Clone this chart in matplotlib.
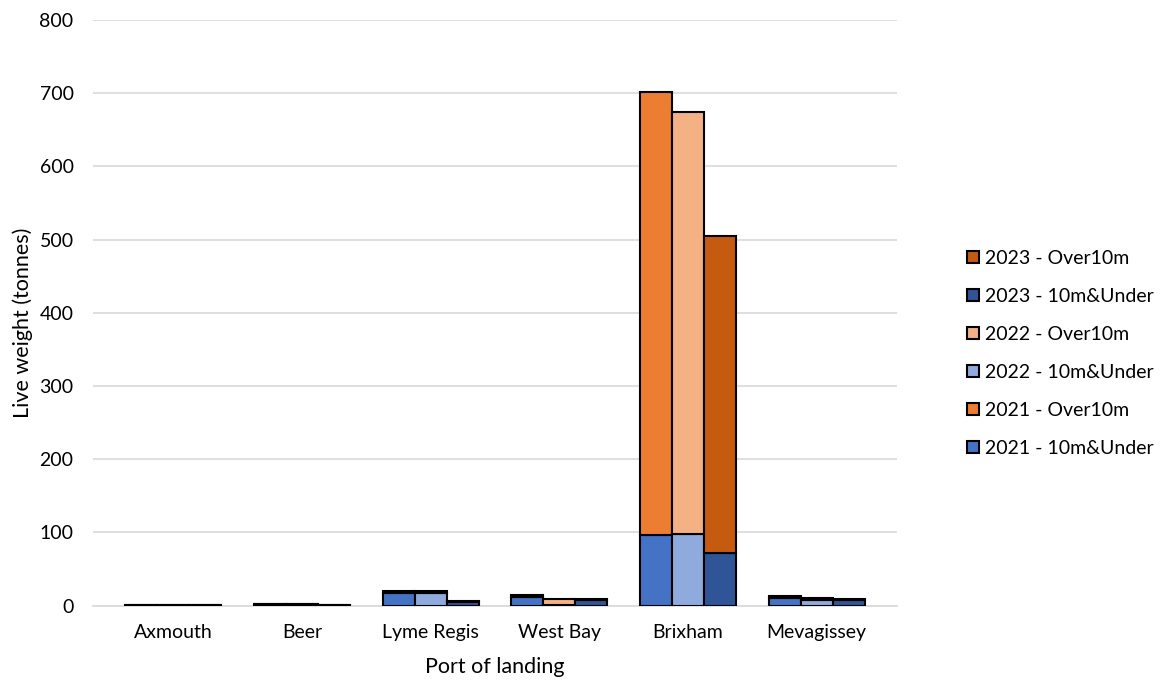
import matplotlib
matplotlib.use("Agg")
import matplotlib.pyplot as plt
import numpy as np

plt.rcParams['font.family'] = ['Lato', 'DejaVu Sans']

ports = ["Axmouth", "Beer", "Lyme Regis", "West Bay", "Brixham", "Mevagissey"]
years = ["2021", "2022", "2023"]

under10_2021 = [0.3, 2, 17, 12, 96, 10]
over10_2021 = [0, 0, 3, 2, 606, 3]
under10_2022 = [1.2, 2, 17, 1, 98, 8]
over10_2022 = [0, 0, 3, 8, 577, 3]
under10_2023 = [0.3, 0.5, 5, 8, 72, 8]
over10_2023 = [0, 0, 1, 1, 433, 1]

under_series = [under10_2021, under10_2022, under10_2023]
over_series = [over10_2021, over10_2022, over10_2023]
under_colors = ["#4472C4", "#8FAADC", "#2F5597"]
over_colors = ["#ED7D31", "#F4B183", "#C55A11"]

fig = plt.figure(figsize=(11.61, 6.81), dpi=100)
ax = fig.add_axes([0.0801, 0.1106, 0.6925, 0.8599])

x = np.arange(len(ports))
width = 0.249
handles = {}
for i, yr in enumerate(years):
    pos = x + (i - 1) * width
    hu = ax.bar(pos, under_series[i], width, color=under_colors[i],
                edgecolor="black", linewidth=1.5, zorder=3,
                label=f"{yr} - 10m&Under")
    ho = ax.bar(pos, over_series[i], width, bottom=under_series[i],
                color=over_colors[i], edgecolor="black", linewidth=1.5,
                zorder=3, label=f"{yr} - Over10m")
    handles[(yr, "u")] = hu
    handles[(yr, "o")] = ho

ax.set_xlim(-0.625, len(ports) - 0.375)
ax.set_ylim(0, 800)
ax.set_yticks(range(0, 801, 100))
ax.yaxis.grid(True, color="#d9d9d9", linewidth=1.2, zorder=0)
ax.set_axisbelow(True)
for s in ["top", "right", "left"]:
    ax.spines[s].set_visible(False)
ax.spines["bottom"].set_color("#d9d9d9")
ax.spines["bottom"].set_linewidth(1.2)
ax.tick_params(axis="both", length=0, labelsize=14, colors="black")
ax.tick_params(axis="y", pad=14)
ax.tick_params(axis="x", pad=13)
ax.set_xticks(x)
ax.set_xticklabels(ports)
ax.set_xlabel("Port of landing", fontsize=15.5)
ax.set_ylabel("Live weight (tonnes)", fontsize=15.5)
ax.xaxis.set_label_coords(0.5, -0.087)
ax.yaxis.set_label_coords(-0.0746, 0.483)

order = [("2023", "o"), ("2023", "u"), ("2022", "o"), ("2022", "u"),
         ("2021", "o"), ("2021", "u")]
leg_h = [handles[k] for k in order]
leg_l = [h.get_label() for h in leg_h]
fig.legend(leg_h, leg_l, loc="center left", bbox_to_anchor=(0.8326, 0.481),
           frameon=False, fontsize=14, labelspacing=1.08, borderpad=0,
           borderaxespad=0, handlelength=0.63, handleheight=0.63,
           handletextpad=0.3)

fig.savefig("out.png", dpi=100)
